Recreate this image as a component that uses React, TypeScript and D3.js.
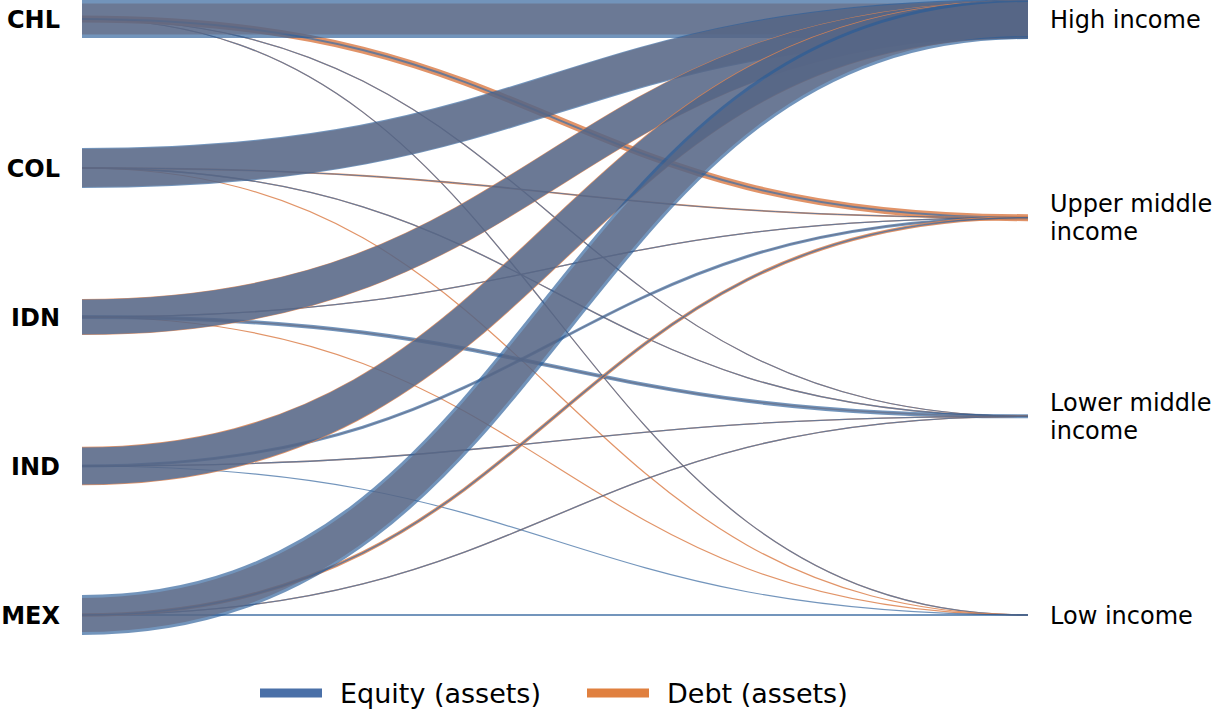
import React from "react";
import * as d3 from "d3";

// Reporting economies (left) and counterpart income groups (right)
const countries = ["CHL", "COL", "IDN", "IND", "MEX"];
const incomeGroups = ["High income", "Upper middle income", "Lower middle income", "Low income"];
const incomeLabelLines = [["High income"], ["Upper middle", "income"], ["Lower middle", "income"], ["Low income"]];

// Portfolio assets by counterpart income group (rows: countries, cols: income groups)
const equityAssets = [
  [38, 2, 1.2, 1.2],
  [40, 1, 1.3, 0],
  [35, 1.3, 4, 0],
  [37, 3, 1.3, 1.2],
  [40, 1.5, 1.3, 2],
];
const debtAssets = [
  [31, 7, 1.2, 1.2],
  [38, 1.8, 1.3, 1.2],
  [36, 1.3, 1.5, 1.2],
  [38.5, 1.2, 1.3, 0],
  [34, 3.5, 1.3, 0],
];

const seriesNames = ["Equity (assets)", "Debt (assets)"];
const EQUITY = "#285c98";
const DEBT = "#dd8452";
const LEGEND_COLORS = ["#4a70a8", "#e0803f"];

const W = 1215;
const H = 713;
const X0 = 82;
const X1 = 1028;

export default function App() {
  const yLeft = d3.scalePoint<string>().domain(countries).range([19, 615]);
  const yRight = d3.scalePoint<string>().domain(incomeGroups).range([19, 615]);
  const width = d3.scaleLinear().domain([0, 40]).range([0, 40]);
  const link = d3
    .linkHorizontal<any, [number, number]>()
    .source((d: any) => d.s)
    .target((d: any) => d.t);

  // One flow per country/income-group pair; within a country the smaller
  // groups are drawn first so the main band sits on top of them
  const flows = countries.flatMap((c, i) =>
    incomeGroups
      .map((g, j) => ({
        key: `${c}-${g}`,
        equity: equityAssets[i][j],
        debt: debtAssets[i][j],
        d: link({ s: [X0, yLeft(c)!], t: [X1, yRight(g)!] }) as string,
      }))
      .reverse()
  );

  return (
    <svg width={W} height={H} style={{ position: "absolute", left: 0, top: 0, background: "#fff" }}>
      <g fill="none" strokeLinecap="butt">
        {flows.map((f) => (
          <g key={f.key} opacity={0.87}>
            {f.debt > 0 && <path d={f.d} stroke={DEBT} strokeWidth={width(f.debt)} />}
            {f.equity > 0 && (
              <path d={f.d} stroke={EQUITY} strokeOpacity={0.75} strokeWidth={width(f.equity)} />
            )}
          </g>
        ))}
      </g>
      <g fontFamily="DejaVu Sans" fontWeight="bold" fontSize={24} textAnchor="end">
        {countries.map((c) => (
          <text key={c} x={60} y={yLeft(c)} dy="0.36em">
            {c}
          </text>
        ))}
      </g>
      <g fontFamily="DejaVu Sans" fontSize={24}>
        {incomeGroups.map((g, j) => {
          const lines = incomeLabelLines[j];
          const y = yRight(g)!;
          return (
            <text key={g} x={1050} y={y - ((lines.length - 1) * 28) / 2}>
              {lines.map((ln, k) => (
                <tspan key={k} x={1050} dy={k === 0 ? "0.36em" : 28}>
                  {ln}
                </tspan>
              ))}
            </text>
          );
        })}
      </g>
      <g fontFamily="DejaVu Sans" fontSize={27}>
        {seriesNames.map((s, i) => {
          const x = i === 0 ? 260 : 587;
          return (
            <g key={s}>
              <line x1={x} x2={x + 62} y1={693} y2={693} stroke={LEGEND_COLORS[i]} strokeWidth={9} />
              <text x={x + 80} y={693} dy="0.36em">
                {s}
              </text>
            </g>
          );
        })}
      </g>
    </svg>
  );
}
